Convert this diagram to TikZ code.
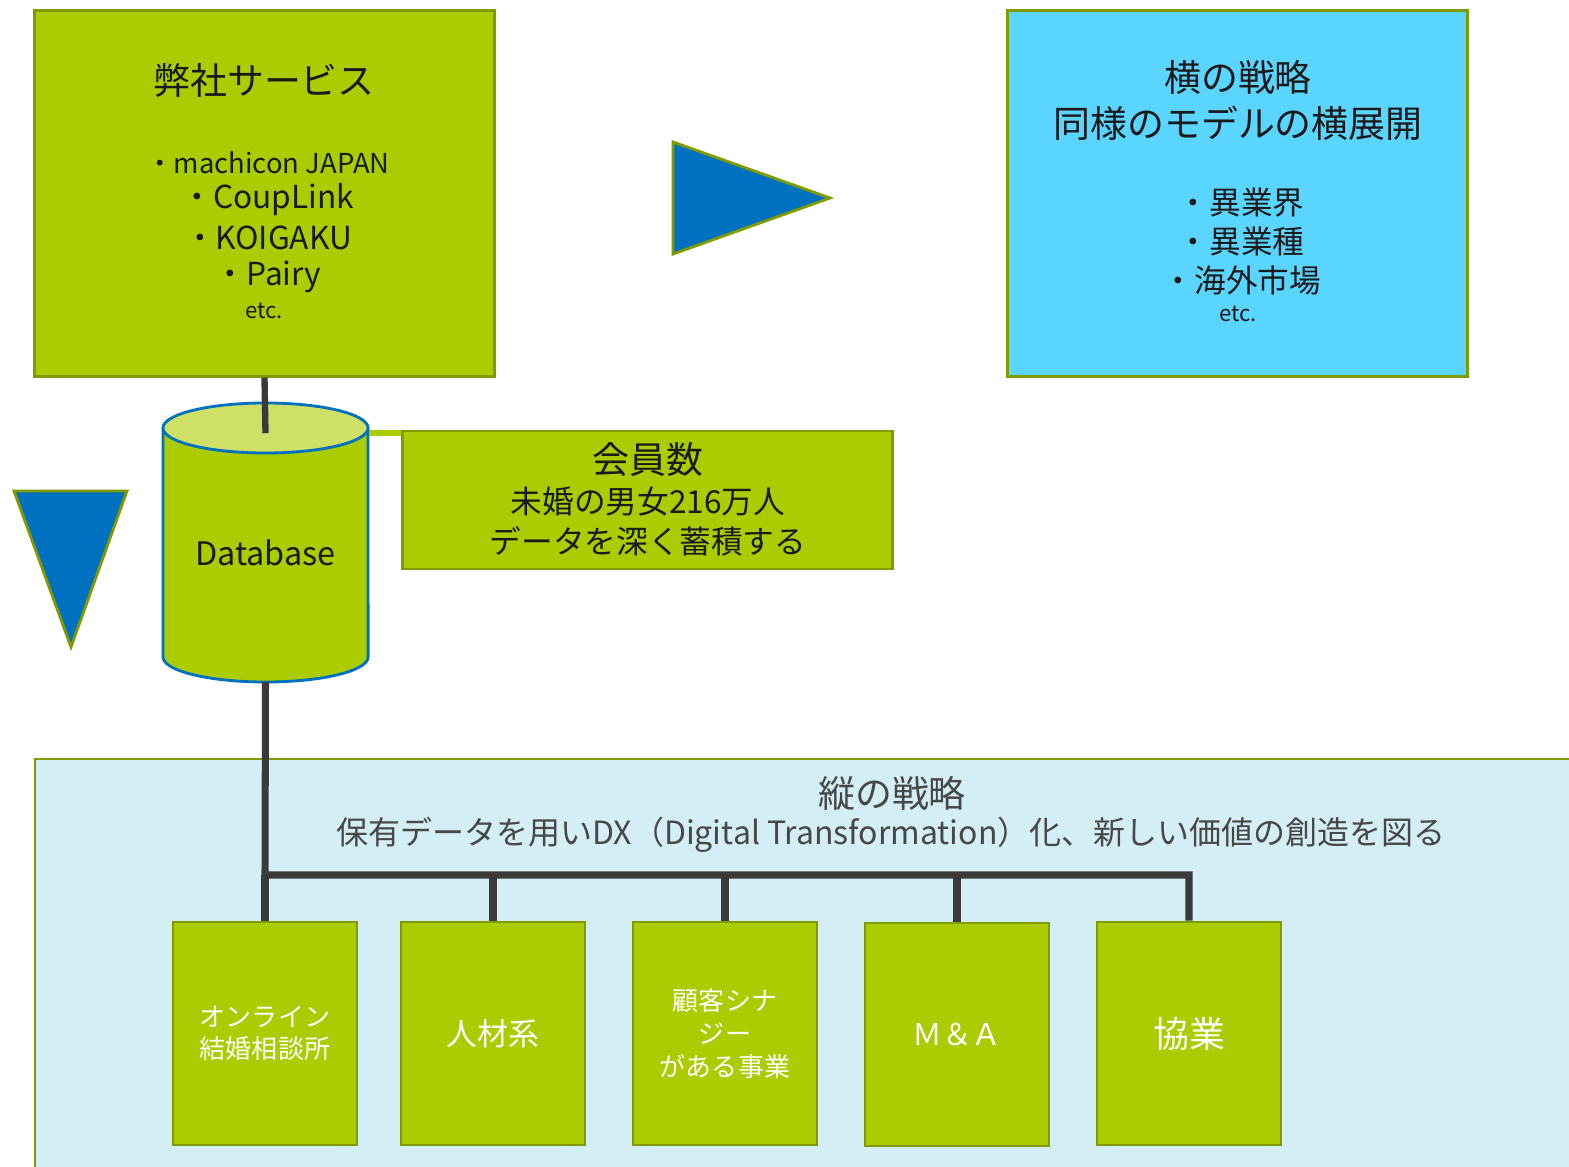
\documentclass[tikz,border=0pt]{standalone}
\usepackage{fontspec}
\setmainfont{Noto Sans CJK JP}
\usetikzlibrary{positioning,calc}
\definecolor{kgreen}{HTML}{AACC00}
\definecolor{kolive}{HTML}{809A00}
\definecolor{kblue}{HTML}{0070C0}
\definecolor{ksky}{HTML}{5AD5FF}
\definecolor{kpale}{HTML}{D3EEF5}
\definecolor{ktop}{HTML}{CEE066}
\definecolor{kline}{HTML}{3A3A3A}
\definecolor{ktext}{HTML}{1A1A1A}
\definecolor{kgray}{HTML}{474747}
\newcommand{\fsz}[2]{\fontsize{#1}{#2}\selectfont}

\begin{document}
\begin{tikzpicture}[x=0.01cm,y=-0.01cm,
    greenbox/.style={draw=kolive,fill=kgreen,line width=0.8pt,inner sep=0pt},
    skybox/.style={draw=kolive,fill=ksky,line width=0.8pt,inner sep=0pt},
    subbox/.style={greenbox,minimum width=1.84cm,minimum height=2.23cm,
      text=white,align=center},
    tri/.style={draw=kolive,fill=kblue,line width=0.8pt,line join=miter},
    txt/.style={text=ktext,inner sep=0pt,align=center},
    link/.style={kline,line width=2pt},
  ]
  \useasboundingbox (0,0) rectangle (1569,1167);
  \clip (0,0) rectangle (1569,1167);

  % ---- Vertical strategy band (bottom) --------------------
  \draw[draw=kolive,fill=kpale,line width=0.8pt] (35,759) rectangle (1600,1200);
  \node[txt,text=kgray,font=\fsz{10.5}{12}] (vtitle) at (892,793) {縦の戦略};
  \node[txt,text=kgray,font=\fsz{9.1}{10}] (vsub) at (891,835)
    {保有データを用いDX（Digital Transformation）化、新しい価値の創造を図る};

  % ---- Own services box -----------------------------------
  \node[greenbox,minimum width=4.59cm,minimum height=3.65cm] (svc) at (264.5,193.5) {};
  \node[txt,font=\fsz{10.5}{12}] (svctitle) at (264,80) {弊社サービス};
  \node[txt,font=\fsz{7.8}{9}] (svc1) at (268,163) {・machicon JAPAN};
  \node[txt,font=\fsz{9}{10}] (svc2) at (268,200) {・CoupLink};
  \node[txt,font=\fsz{9}{10}] (svc3) at (268,238) {・KOIGAKU};
  \node[txt,font=\fsz{9}{10}] (svc4) at (268,277) {・Pairy};
  \node[txt,font=\fsz{6.3}{7}] (svc5) at (264,311) {etc.};

  % ---- Horizontal strategy box ----------------------------
  \node[skybox,minimum width=4.59cm,minimum height=3.65cm] (hori) at (1237.5,193.5) {};
  \node[txt,font=\fsz{10.5}{12}] (horititle) at (1238,77) {横の戦略};
  \node[txt,font=\fsz{10.5}{12}] (horisub) at (1238,123) {同様のモデルの横展開};
  \node[txt,font=\fsz{9}{10}] (hori1) at (1241,203) {・異業界};
  \node[txt,font=\fsz{9}{10}] (hori2) at (1241,241) {・異業種};
  \node[txt,font=\fsz{9}{10}] (hori3) at (1242,280) {・海外市場};
  \node[txt,font=\fsz{6.3}{7}] (hori4) at (1238,314) {etc.};

  % ---- Arrows (triangles) ---------------------------------
  \draw[tri] (673,142) -- (673,254) -- (830,198) -- cycle;
  \draw[tri] (14,491) -- (127,491) -- (71,647) -- cycle;

  % ---- Database cylinder ----------------------------------
  \node[minimum width=2.05cm,minimum height=2.78cm,inner sep=0pt] (db) at (265.5,542) {};
  \fill[kgreen] (163,428) rectangle (368,657);
  \fill[kgreen] (265.5,657) ellipse [x radius=1.025cm,y radius=0.25cm];
  \draw[kblue,line width=0.8pt] (163,428) -- (163,657)
    arc[start angle=180,end angle=360,x radius=1.025cm,y radius=0.25cm] -- (368,428);
  \filldraw[fill=ktop,draw=kblue,line width=0.8pt] (265.5,428)
    ellipse [x radius=1.025cm,y radius=0.25cm];
  \node[txt,font=\fsz{9.2}{10}] (dblabel) at (265.5,553) {Database};

  % ---- Members box ----------------------------------------
  \node[greenbox,minimum width=4.89cm,minimum height=1.38cm] (mem) at (647.5,500) {};
  \node[txt,font=\fsz{10.5}{12}] (memtitle) at (648,460) {会員数};
  \node[txt,font=\fsz{9}{10}] (mem1) at (648,502) {未婚の男女216万人};
  \node[txt,font=\fsz{9}{10}] (mem2) at (648,541) {データを深く蓄積する};

  % ---- Links to the database ------------------------------
  \draw[kline,line width=1.8pt] (svc.south) -- ([yshift=-0.31cm]db.north);
  \draw[kgreen,line width=1.8pt] ([yshift=-0.31cm]db.north east)
    -- ([yshift=-0.31cm]db.north east -| mem.west);

  % ---- Business boxes -------------------------------------
  \node[subbox,font=\fsz{7.4}{9.2}] (biz1) at (265,1033.5) {オンライン\\結婚相談所};
  \node[subbox,font=\fsz{8.8}{10}] (biz2) at (493,1033.5) {人材系};
  \node[subbox,font=\fsz{7.4}{9.4}] (biz3) at (725,1033.5) {顧客シナ\\ジー\\がある事業};
  \node[subbox,font=\fsz{8.5}{10}] (biz4) at (957,1034.5) {Ｍ＆Ａ};
  \node[subbox,font=\fsz{10.2}{12}] (biz5) at (1189,1033.5) {協業};

  % ---- Bus from database to businesses --------------------
  \coordinate (bus) at (265,875);
  \draw[link] (db.south) -- (bus) -| (biz5.north);
  \foreach \b in {biz1,biz2,biz3,biz4}
    \draw[link] (\b.north) -- (\b.north |- bus);

\end{tikzpicture}
\end{document}
